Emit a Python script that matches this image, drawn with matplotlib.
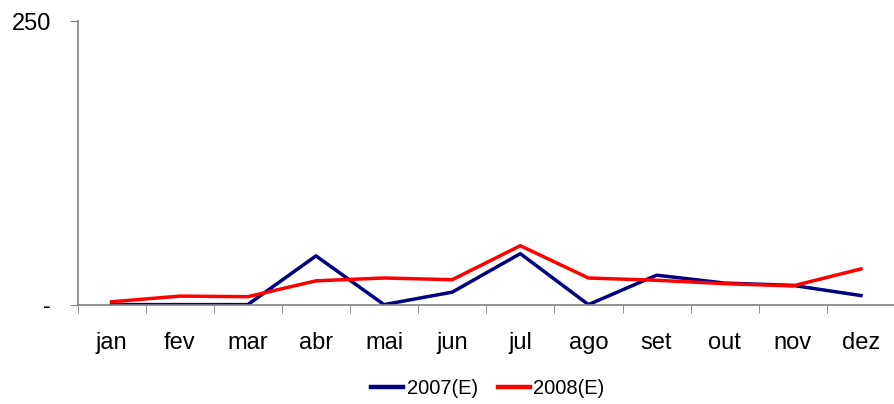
import matplotlib
matplotlib.use("Agg")
import matplotlib.pyplot as plt
import numpy as np

plt.rcParams["font.family"] = ["Liberation Sans", "DejaVu Sans"]

months = ["jan", "fev", "mar", "abr", "mai", "jun", "jul", "ago", "set", "out", "nov", "dez"]
serie_2007 = [0, 0, 0, 43, 0, 11, 45, 0, 26, 19, 17, 8]
serie_2008 = [2.5, 7.5, 7, 21, 23.5, 22, 52, 23.5, 21.5, 18.5, 16.5, 31.5]

fig = plt.figure(figsize=(8.95, 4.04), dpi=100)
ax = fig.add_axes([0.0866, 0.246, 0.9134, 0.701])

x = np.arange(len(months))
ax.plot(x, serie_2007, color="#000080", lw=2.5, label="2007(E)")
ax.plot(x, serie_2008, color="#ff0000", lw=2.5, label="2008(E)")

ax.set_xlim(-0.5, len(months) - 0.5)
ax.set_ylim(0, 250)

# category labels at centres, tick marks at boundaries
ax.set_xticks(x)
ax.set_xticklabels(months, fontsize=17)
ax.tick_params(axis="x", which="major", length=0, pad=20)
ax.set_xticks(np.arange(-0.5, len(months)), minor=True)
ax.tick_params(axis="x", which="minor", length=6, color="#808080", direction="out")

ax.set_yticks([0, 250])
ax.set_yticklabels(["-", "250"], fontsize=17)
ax.tick_params(axis="y", length=6, color="#808080", direction="out", pad=13)

for s in ["top", "right"]:
    ax.spines[s].set_visible(False)
for s in ["left", "bottom"]:
    ax.spines[s].set_color("#808080")
    ax.spines[s].set_linewidth(1.2)

leg = fig.legend(loc="lower center", bbox_to_anchor=(0.545, -0.03), ncol=2, frameon=False,
                 fontsize=14.5, handlelength=1.6, handletextpad=0.15, columnspacing=1.0)
for h in leg.get_lines():
    h.set_linewidth(3.2)

fig.savefig("out.png", dpi=100)
